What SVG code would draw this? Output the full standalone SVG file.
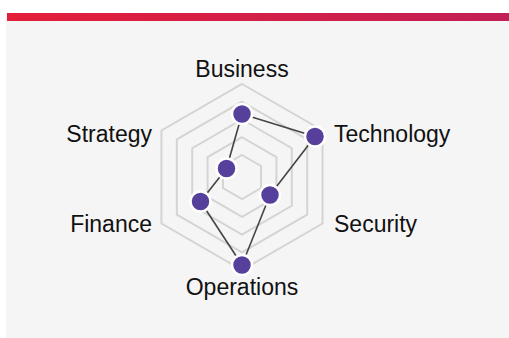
<svg xmlns="http://www.w3.org/2000/svg" width="509" height="338" viewBox="0 0 509 338">
<defs>
<linearGradient id="bar" x1="0" y1="0" x2="1" y2="0">
<stop offset="0" stop-color="#e41e3a"/>
<stop offset="1" stop-color="#c21f55"/>
</linearGradient>
<style>
.grid{fill:none;stroke:#d4d4d4;stroke-width:2}
.edge{stroke:#444;stroke-width:1.6;fill:none}
.node{fill:#56409c;stroke:#fff;stroke-width:2.5}
.lbl{font-family:"Liberation Sans",Arial,sans-serif;font-size:23px;fill:#111}
</style>
</defs>
<rect x="6" y="13" width="503" height="325" fill="#f5f5f5"/>
<rect x="7" y="13" width="502" height="8" fill="url(#bar)"/>
<g id="grid">
<polygon class="grid" points="242,84 322.54,130.5 322.54,223.5 242,270 161.46,223.5 161.46,130.5"/>
<polygon class="grid" points="242,101.75 307.17,139.375 307.17,214.625 242,252.25 176.83,214.625 176.83,139.375"/>
<polygon class="grid" points="242,119.5 291.8,148.25 291.8,205.75 242,234.5 192.2,205.75 192.2,148.25"/>
<polygon class="grid" points="242,137.25 276.42,157.125 276.42,196.875 242,216.75 207.58,196.875 207.58,157.125"/>
<polygon class="grid" points="242,155 261.05,166 261.05,188 242,199 222.95,188 222.95,166"/>
</g>
<g id="connectors">
<line class="edge" x1="242" y1="114" x2="315" y2="136.5"/>
<line class="edge" x1="315" y1="136.5" x2="270" y2="195"/>
<line class="edge" x1="270" y1="195" x2="242" y2="265"/>
<line class="edge" x1="242" y1="265" x2="200.5" y2="201.5"/>
<line class="edge" x1="200.5" y1="201.5" x2="226.5" y2="168.5"/>
<line class="edge" x1="226.5" y1="168.5" x2="242" y2="114"/>
</g>
<g id="business"><circle class="node" cx="242" cy="114" r="10"/><text class="lbl" x="242" y="77" text-anchor="middle">Business</text></g>
<g id="technology"><circle class="node" cx="315" cy="136.5" r="10"/><text class="lbl" x="334" y="141.5">Technology</text></g>
<g id="security"><circle class="node" cx="270" cy="195" r="10"/><text class="lbl" x="334" y="232">Security</text></g>
<g id="operations"><circle class="node" cx="242" cy="265" r="10"/><text class="lbl" x="242" y="295" text-anchor="middle">Operations</text></g>
<g id="finance"><circle class="node" cx="200.5" cy="201.5" r="10"/><text class="lbl" x="152" y="232" text-anchor="end">Finance</text></g>
<g id="strategy"><circle class="node" cx="226.5" cy="168.5" r="10"/><text class="lbl" x="152" y="142" text-anchor="end">Strategy</text></g>
</svg>
